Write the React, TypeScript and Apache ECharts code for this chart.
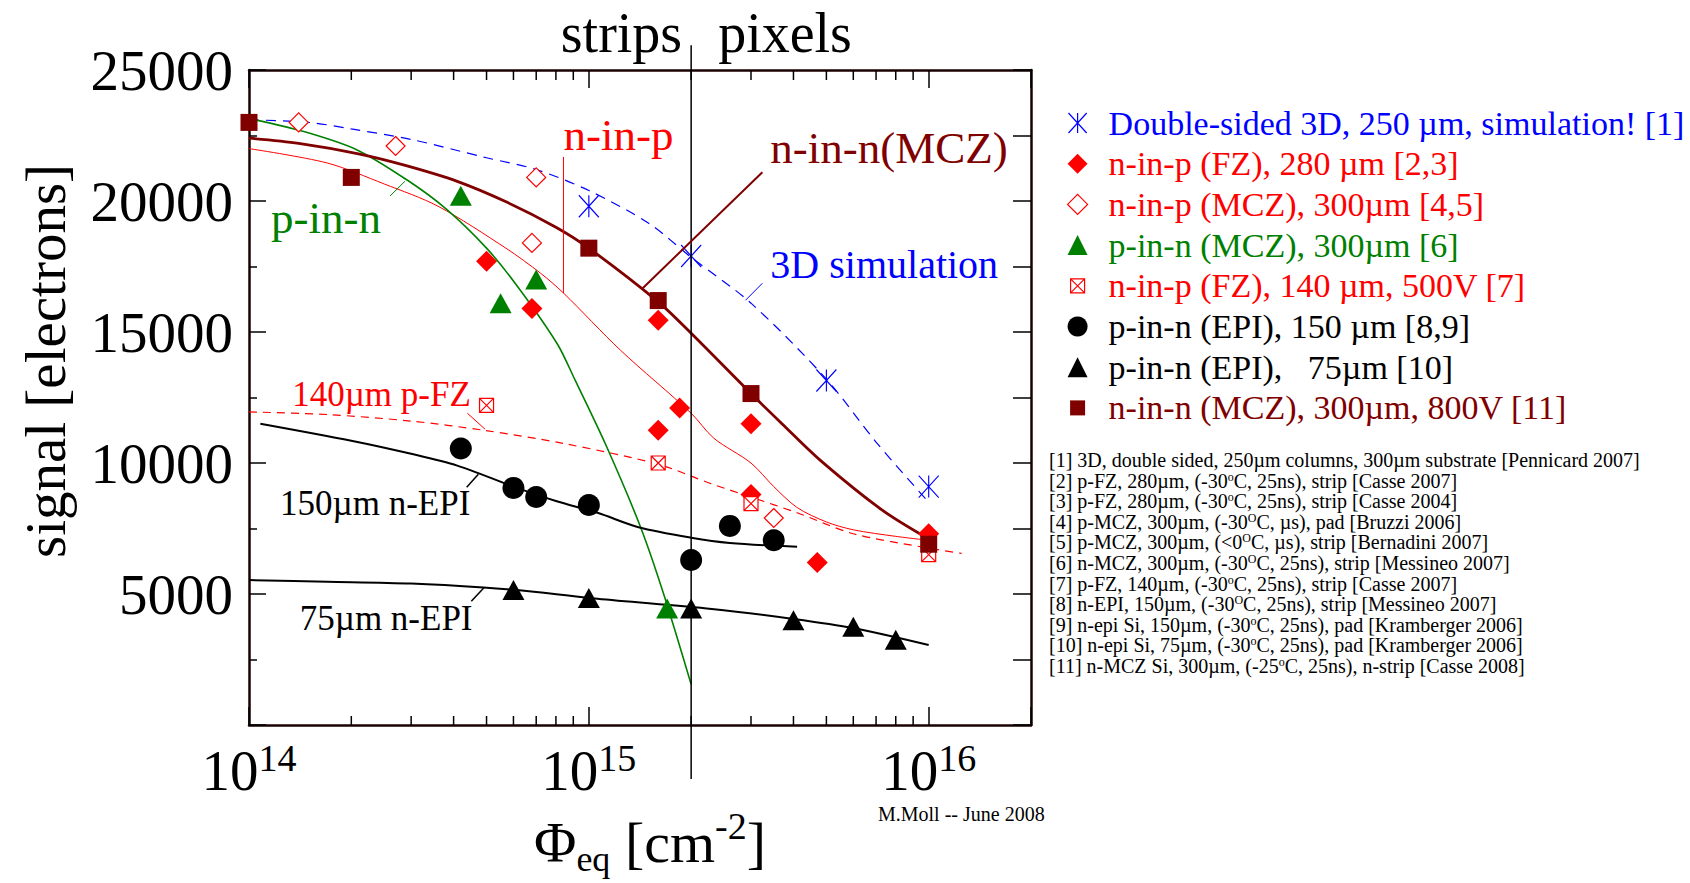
import React, { useEffect, useRef } from 'react';
import * as echarts from 'echarts';

const FONT = "'Liberation Serif', 'Times New Roman', Times, serif";
const BORDER = '#1a0000';

// Axis ranges and ticks
const xMin = 1e14;
const xMax = 2e16;
const yMin = 0;
const yMax = 25000;
const yMajorInterval = 5000;
const yRightInterval = 2500;
const xMinorTicks = [2e14, 3e14, 4e14, 5e14, 6e14, 7e14, 8e14, 9e14, 2e15, 3e15, 4e15, 5e15, 6e15, 7e15, 8e15, 9e15];

// Measured points
const sim3dX = [1e15, 2e15, 5e15, 1e16];
const sim3dY = [19800, 17900, 13150, 9100];
const fz280X = [5e14, 6.8e14, 1.6e15, 1.6e15, 1.85e15, 3e15, 3e15, 4.7e15, 1e16];
const fz280Y = [17700, 15900, 15450, 11250, 12100, 11500, 8800, 6200, 7300];
const mcz300X = [1.4e14, 2.7e14, 7e14, 6.8e14, 3.5e15];
const mcz300Y = [23000, 22100, 20900, 18400, 7900];
const pinnMczX = [4.2e14, 5.5e14, 7e14, 1.7e15];
const pinnMczY = [20200, 16100, 17000, 4450];
const fz140X = [5e14, 1.6e15, 3e15, 1e16];
const fz140Y = [12200, 10000, 8450, 6500];
const epi150X = [4.2e14, 6e14, 7e14, 1e15, 2e15, 2.6e15, 3.5e15];
const epi150Y = [10550, 9050, 8700, 8400, 6300, 7600, 7050];
const epi75X = [6e14, 1e15, 2e15, 4e15, 6e15, 8e15];
const epi75Y = [5150, 4850, 4450, 4000, 3750, 3250];
const ninnX = [1e14, 2e14, 1e15, 1.6e15, 3e15, 1e16];
const ninnY = [23000, 20900, 18200, 16200, 12650, 6900];

// Curves
const curve3dX = [1e14, 1.5e14, 2e14, 3e14, 5e14, 7e14, 1e15, 1.5e15, 2e15, 3e15, 5e15, 7e15, 1e16];
const curve3dY = [23100, 23000, 22750, 22350, 21650, 21200, 20400, 19150, 17850, 16100, 13200, 10800, 8500];
const curveNinpX = [1e14, 1.7e14, 2.5e14, 3.6e14, 5.7e14, 7.2e14, 8.4e14, 1.24e15, 2e15, 2.33e15, 3e15, 3.5e15, 4.1e15, 5e15, 6e15, 8e15, 1e16];
const curveNinpY = [22000, 21450, 20650, 19800, 18200, 17250, 16500, 14300, 11900, 10950, 10000, 9100, 8300, 7750, 7450, 7200, 7050];
const curveFz140X = [1e14, 1.7e14, 3e14, 4.9e14, 8.4e14, 1.6e15, 2.3e15, 3e15, 4.1e15, 6e15, 1e16, 1.25e16];
const curveFz140Y = [11950, 11850, 11600, 11250, 10750, 9950, 9200, 8700, 8100, 7300, 6750, 6550];
const curvePinnX = [1e14, 1.45e14, 2.08e14, 2.92e14, 3.8e14, 5e14, 6.2e14, 8.07e14, 9.12e14, 1.13e15, 1.42e15, 1.66e15, 2e15];
const curvePinnY = [23150, 22650, 21950, 20800, 19700, 18200, 16700, 14550, 13150, 10600, 7550, 5000, 1550];
const curveEpi150X = [1.08e14, 2e14, 3e14, 4.1e14, 6e14, 8e14, 1.06e15, 1.4e15, 2e15, 2.6e15, 4.1e15];
const curveEpi150Y = [11500, 10850, 10350, 9900, 9100, 8550, 8100, 7550, 7150, 6950, 6800];
const curveEpi75X = [1e14, 1.7e14, 3e14, 4.9e14, 7e14, 1.06e15, 2.3e15, 4e15, 6e15, 1e16];
const curveEpi75Y = [5530, 5470, 5400, 5250, 5080, 4820, 4430, 4050, 3700, 3050];
const curveNinnX = [1e14, 1.4e14, 2.1e14, 2.9e14, 4.1e14, 5.75e14, 8e14, 1e15, 1.6e15, 2e15, 3e15, 3.7e15, 4.8e15, 7.3e15, 1e16];
const curveNinnY = [22400, 22200, 21800, 21350, 20750, 19950, 19000, 18200, 16150, 14950, 12650, 11500, 10100, 8200, 7100];

// Legend
const legendNames = [
  'Double-sided 3D, 250 µm, simulation! [1]',
  'n-in-p (FZ), 280 µm [2,3]',
  'n-in-p (MCZ), 300µm [4,5]',
  'p-in-n (MCZ), 300µm [6]',
  'n-in-p (FZ), 140 µm, 500V [7]',
  'p-in-n (EPI), 150 µm [8,9]',
  'p-in-n (EPI),   75µm [10]',
  'n-in-n (MCZ), 300µm, 800V [11]',
];
const legendColors = ['#0000ff', '#ff0000', '#ff0000', '#008000', '#ff0000', '#000000', '#000000', '#800000'];

// References (alternating normal / superscript parts)
const refs: string[][] = [
  ['[1] 3D, double sided, 250µm columns, 300µm substrate [Pennicard 2007]'],
  ['[2] p-FZ, 280µm, (-30', 'o', 'C, 25ns), strip [Casse 2007]'],
  ['[3] p-FZ, 280µm, (-30', 'o', 'C, 25ns), strip [Casse 2004]'],
  ['[4] p-MCZ, 300µm, (-30', 'O', 'C, µs), pad [Bruzzi 2006]'],
  ['[5] p-MCZ, 300µm, (<0', 'O', 'C, µs), strip [Bernadini 2007]'],
  ['[6] n-MCZ, 300µm, (-30', 'O', 'C, 25ns), strip [Messineo 2007]'],
  ['[7] p-FZ, 140µm, (-30', 'o', 'C, 25ns), strip [Casse 2007]'],
  ['[8] n-EPI, 150µm, (-30', 'O', 'C, 25ns), strip [Messineo 2007]'],
  ['[9] n-epi Si, 150µm, (-30', 'o', 'C, 25ns), pad [Kramberger 2006]'],
  ['[10] n-epi Si, 75µm, (-30', 'o', 'C, 25ns), pad [Kramberger 2006]'],
  ['[11] n-MCZ Si, 300µm, (-25', 'o', 'C, 25ns), n-strip [Casse 2008]'],
];

// Annotations (data-space anchors: left / vertical middle of text)
const annoTexts = [
  { text: 'n-in-p', x: 8.42e14, y: 22530, color: '#ff0000', size: 45 },
  { text: 'n-in-n(MCZ)', x: 3.42e15, y: 22030, color: '#800000', size: 45 },
  { text: '3D simulation', x: 3.42e15, y: 17575, color: '#0000ff', size: 40 },
  { text: 'p-in-n', x: 1.16e14, y: 19360, color: '#008000', size: 45 },
  { text: '140µm p-FZ', x: 1.34e14, y: 12625, color: '#ff0000', size: 35 },
  { text: '150µm n-EPI', x: 1.234e14, y: 8460, color: '#000000', size: 35 },
  { text: '75µm n-EPI', x: 1.41e14, y: 4070, color: '#000000', size: 35 },
];
const annoLines = [
  { from: [8.42e14, 21680], to: [8.42e14, 16480], color: '#ff0000', width: 1 },
  { from: [3.24e15, 21100], to: [1.44e15, 16670], color: '#800000', width: 2 },
  { from: [3.24e15, 16860], to: [2.89e15, 16210], color: '#0000ff', width: 1 },
  { from: [2.6e14, 20190], to: [2.88e14, 20760], color: '#008000', width: 1 },
  { from: [4.39e14, 11900], to: [4.95e14, 11290], color: '#ff0000', width: 1 },
  { from: [4.37e14, 9070], to: [4.73e14, 9570], color: '#000000', width: 1.5 },
  { from: [4.51e14, 4720], to: [4.92e14, 5250], color: '#000000', width: 1.5 },
];
const boundaryX = 2e15;
const boundaryTop = 25940;
const boundaryBottom = -2060;

const ASTERISK = 'path://M10 0L10 22M0 0L20 22M0 22L20 0';
const BOXX = 'path://M0 0L14 0L14 14L0 14ZM0 0L14 14M14 0L0 14';
const BOXX_LEGEND = 'path://M0 0M20 20M3 3L17 3L17 17L3 17ZM3 3L17 17M17 3L3 17';
const SQUARE_LEGEND = 'path://M0 0M20 20M2.5 2.5L17.5 2.5L17.5 17.5L2.5 17.5Z';

const zip = (xs: number[], ys: number[]) => xs.map((x, i) => [x, ys[i]]);

function lineSeries(xs: number[], ys: number[], color: string, width: number, type: any = 'solid') {
  return {
    type: 'line',
    data: zip(xs, ys),
    showSymbol: false,
    symbol: 'none',
    smooth: 0.3,
    silent: true,
    z: 2,
    lineStyle: { color, width, type, opacity: 1 },
  };
}

function scatter(name: string, xs: number[], ys: number[], symbol: string, size: any, itemStyle: any, z = 5) {
  return {
    type: 'scatter',
    name,
    data: zip(xs, ys),
    z,
    symbol,
    symbolSize: size,
    itemStyle: { opacity: 1, ...itemStyle },
  };
}

function buildOption(): any {
  const axisLine = { show: true, onZero: false, lineStyle: { color: BORDER, width: 2.5 } };
  const legendText = { fontFamily: FONT, fontSize: 34, lineHeight: 34, padding: [0, 0, 0, 16] };
  return {
    animation: false,
    grid: { left: 249, top: 70, width: 782, height: 655, containLabel: false },
    legend: {
      orient: 'vertical',
      left: 1061,
      top: 101,
      itemWidth: 20,
      itemHeight: 20,
      itemGap: 6.7,
      selectedMode: false,
      itemStyle: { borderWidth: 1.2, opacity: 1 },
      textStyle: legendText,
      data: legendNames.map((name, i) => {
        const d: any = { name, textStyle: { ...legendText, color: legendColors[i] } };
        if (i === 4) d.icon = BOXX_LEGEND;
        if (i === 7) d.icon = SQUARE_LEGEND;
        return d;
      }),
    },
    xAxis: [
      {
        type: 'log',
        logBase: 10,
        min: xMin,
        max: xMax,
        position: 'bottom',
        axisLine,
        axisTick: { inside: true, length: 18, lineStyle: { color: '#000', width: 1.5 } },
        splitLine: { show: false },
        axisLabel: {
          margin: 14,
          formatter: (v: number) => {
            const e = Math.round(Math.log10(v));
            if (Math.abs(Math.log10(v) - e) > 1e-6) return '';
            return `{b|10}{s|${e}}`;
          },
          rich: {
            b: { fontSize: 57, fontFamily: FONT, color: '#000', lineHeight: 60, verticalAlign: 'bottom' },
            s: { fontSize: 38, fontFamily: FONT, color: '#000', lineHeight: 26, verticalAlign: 'top' },
          },
        },
      },
      {
        type: 'log',
        logBase: 10,
        min: xMin,
        max: xMax,
        position: 'top',
        axisLine,
        axisTick: { inside: true, length: 18, lineStyle: { color: '#000', width: 1.5 } },
        axisLabel: { show: false },
        splitLine: { show: false },
      },
    ],
    yAxis: [
      {
        type: 'value',
        min: yMin,
        max: yMax,
        interval: yMajorInterval,
        position: 'left',
        axisLine,
        axisTick: { inside: true, length: 17, lineStyle: { color: '#000', width: 1.5 } },
        minorTick: { show: true, splitNumber: 2, length: 8, lineStyle: { color: '#000', width: 1.5 } },
        splitLine: { show: false },
        minorSplitLine: { show: false },
        axisLabel: {
          fontSize: 57,
          fontFamily: FONT,
          color: '#000',
          margin: 16,
          padding: [0, 0, 10, 0],
          formatter: (v: number) => (v === 0 ? '' : String(v)),
        },
      },
      {
        type: 'value',
        min: yMin,
        max: yMax,
        interval: yRightInterval,
        position: 'right',
        axisLine,
        axisTick: { inside: true, length: 18, lineStyle: { color: '#000', width: 1.5 } },
        axisLabel: { show: false },
        splitLine: { show: false },
      },
    ],
    series: [
      lineSeries(curve3dX, curve3dY, '#0000ff', 1.2, [10, 7]),
      lineSeries(curveNinpX, curveNinpY, '#ff0000', 1),
      lineSeries(curveFz140X, curveFz140Y, '#ff0000', 1.2, [8, 6]),
      lineSeries(curvePinnX, curvePinnY, '#008000', 1.6),
      lineSeries(curveEpi150X, curveEpi150Y, '#000000', 2),
      lineSeries(curveEpi75X, curveEpi75Y, '#000000', 2),
      lineSeries(curveNinnX, curveNinnY, '#800000', 2.8),
      scatter(legendNames[0], sim3dX, sim3dY, ASTERISK, [20, 22], { color: 'none', borderColor: '#0000ff', borderWidth: 1.2 }),
      scatter(legendNames[1], fz280X, fz280Y, 'diamond', 21, { color: '#ff0000' }),
      scatter(legendNames[2], mcz300X, mcz300Y, 'diamond', 19, { color: '#ffffff', borderColor: '#ff0000', borderWidth: 1.2 }),
      scatter(legendNames[3], pinnMczX, pinnMczY, 'triangle', [22, 20], { color: '#008000' }),
      scatter(legendNames[4], fz140X, fz140Y, BOXX, 14, { color: '#ffffff', borderColor: '#ff0000', borderWidth: 1.2 }, 6),
      scatter(legendNames[5], epi150X, epi150Y, 'circle', 22, { color: '#000000' }),
      scatter(legendNames[6], epi75X, epi75Y, 'triangle', [22, 20], { color: '#000000' }),
      scatter(legendNames[7], ninnX, ninnY, 'rect', 17, { color: '#800000' }, 6),
      {
        type: 'custom',
        silent: true,
        z: 4,
        data: xMinorTicks.map((v) => [v, yMin]),
        encode: { x: 0, y: 1 },
        renderItem: (params: any, api: any) => {
          const x = api.value(0);
          const b = api.coord([x, yMin]);
          const t = api.coord([x, yMax]);
          return {
            type: 'group',
            children: [
              { type: 'line', shape: { x1: b[0], y1: b[1], x2: b[0], y2: b[1] - 9 }, style: { stroke: '#000', lineWidth: 1.5 } },
              { type: 'line', shape: { x1: t[0], y1: t[1], x2: t[0], y2: t[1] + 10 }, style: { stroke: '#000', lineWidth: 1.5 } },
            ],
          };
        },
      },
    ],
  };
}

function buildGraphic(px: (x: number, y: number) => number[]): any[] {
  const els: any[] = [];
  const a = px(boundaryX, boundaryTop);
  const b = px(boundaryX, boundaryBottom);
  els.push({ type: 'line', silent: true, z: 10, shape: { x1: a[0], y1: a[1], x2: b[0], y2: b[1] }, style: { stroke: '#000', lineWidth: 1.5 } });
  const top = px(boundaryX, yMax);
  els.push({ type: 'text', silent: true, x: top[0] - 9, y: top[1] - 37, style: { text: 'strips', fontSize: 56, fontFamily: FONT, fill: '#000', align: 'right', verticalAlign: 'middle' } });
  els.push({ type: 'text', silent: true, x: top[0] + 27, y: top[1] - 37, style: { text: 'pixels', fontSize: 56, fontFamily: FONT, fill: '#000', align: 'left', verticalAlign: 'middle' } });

  annoLines.forEach((l) => {
    const p = px(l.from[0], l.from[1]);
    const q = px(l.to[0], l.to[1]);
    els.push({ type: 'line', silent: true, z: 10, shape: { x1: p[0], y1: p[1], x2: q[0], y2: q[1] }, style: { stroke: l.color, lineWidth: l.width } });
  });
  annoTexts.forEach((t) => {
    const p = px(t.x, t.y);
    els.push({ type: 'text', silent: true, z: 10, x: p[0], y: p[1], style: { text: t.text, fontSize: t.size, fontFamily: FONT, fill: t.color, align: 'left', verticalAlign: 'middle' } });
  });

  // axis names
  els.push({
    type: 'text', silent: true, x: 45, y: 361, rotation: Math.PI / 2,
    style: { text: 'signal [electrons]', fontSize: 57, fontFamily: FONT, fill: '#000', align: 'center', verticalAlign: 'middle' },
  });
  els.push({
    type: 'text', silent: true, x: 650, y: 807,
    style: {
      text: '{n|Φ}{sub|eq}{n| [cm}{sup|-2}{n|]}',
      align: 'center', verticalAlign: 'top',
      rich: {
        n: { fontSize: 58, fontFamily: FONT, fill: '#000', lineHeight: 70, verticalAlign: 'middle' },
        sub: { fontSize: 36, fontFamily: FONT, fill: '#000', lineHeight: 50, verticalAlign: 'bottom' },
        sup: { fontSize: 38, fontFamily: FONT, fill: '#000', lineHeight: 50, verticalAlign: 'top' },
      },
    },
  });
  els.push({ type: 'text', silent: true, x: 878, y: 814, style: { text: 'M.Moll -- June 2008', fontSize: 20, fontFamily: FONT, fill: '#000', align: 'left', verticalAlign: 'middle' } });

  refs.forEach((parts, i) => {
    const text = parts.map((p, k) => (k % 2 ? `{s|${p}}` : `{n|${p}}`)).join('');
    els.push({
      type: 'text', silent: true, x: 1049, y: 460 + i * 20.6,
      style: {
        text, align: 'left', verticalAlign: 'middle',
        rich: {
          n: { fontSize: 20, fontFamily: FONT, fill: '#000', lineHeight: 20, verticalAlign: 'bottom' },
          s: { fontSize: 12, fontFamily: FONT, fill: '#000', lineHeight: 12, verticalAlign: 'top' },
        },
      },
    });
  });
  return els;
}

export default function App() {
  const ref = useRef<HTMLDivElement>(null);
  useEffect(() => {
    document.body.style.margin = '0';
    document.body.style.overflow = 'hidden';
    const el = ref.current as HTMLDivElement;
    const chart = echarts.init(el, undefined, { renderer: 'svg' });
    chart.setOption(buildOption());
    const px = (x: number, y: number) => chart.convertToPixel({ xAxisIndex: 0, yAxisIndex: 0 }, [x, y]) as number[];
    chart.setOption({ graphic: buildGraphic(px) });
    return () => chart.dispose();
  }, []);
  return <div ref={ref} style={{ width: 1690, height: 883 }} />;
}
